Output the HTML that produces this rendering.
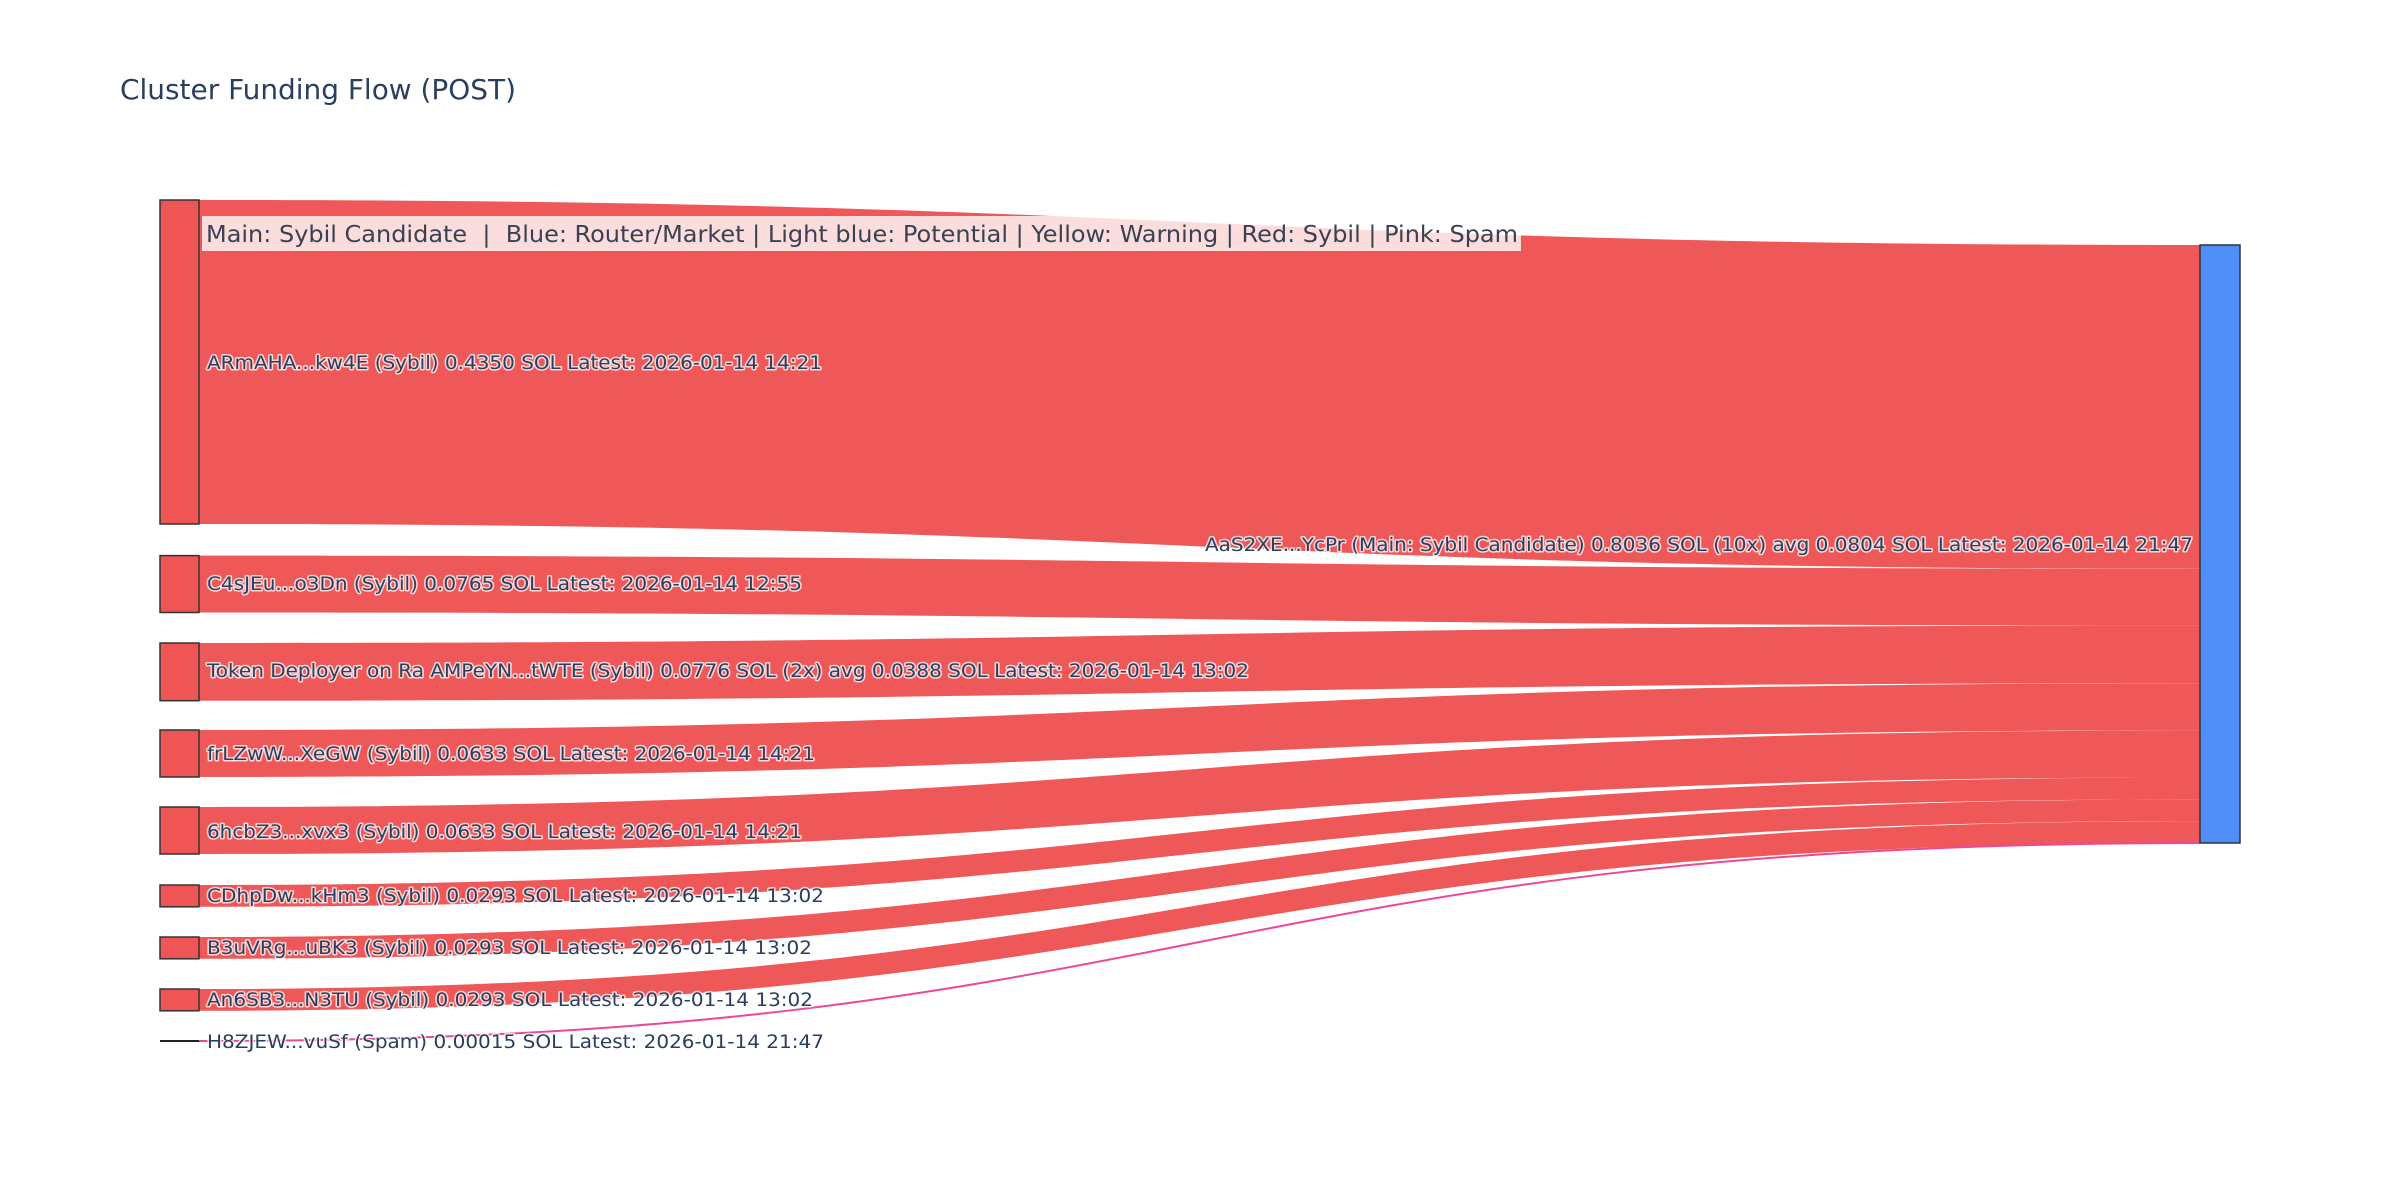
<!DOCTYPE html>
<html><head><meta charset="utf-8"><style>html,body{margin:0;padding:0;background:#fff}svg{display:block}
.l{font-family:"DejaVu Sans","Liberation Sans",sans-serif;font-size:19px;fill:#2a3f5f;paint-order:stroke;stroke:rgba(255,255,255,0.75);stroke-width:3px;stroke-linejoin:round}</style></head><body>
<svg width="2400" height="1200" viewBox="0 0 2400 1200" xmlns="http://www.w3.org/2000/svg">
<rect width="2400" height="1200" fill="#fff"/>
<text x="120" y="99" font-family="DejaVu Sans, Liberation Sans, sans-serif" font-size="28" fill="#2a3f5f" textLength="396" lengthAdjust="spacingAndGlyphs">Cluster Funding Flow (POST)</text>
<g fill="#ef5555" fill-opacity="0.98">
<path d="M199,200 C1199.5,200 1199.5,245 2200,245 L2200,568.7 C1199.5,568.7 1199.5,524 199,524 Z"/>
<path d="M199,555.6 C1199.5,555.6 1199.5,568.7 2200,568.7 L2200,625.6 C1199.5,625.6 1199.5,612.5 199,612.5 Z"/>
<path d="M199,643 C1199.5,643 1199.5,625.6 2200,625.6 L2200,683.3 C1199.5,683.3 1199.5,700.7 199,700.7 Z"/>
<path d="M199,730 C1199.5,730 1199.5,683.3 2200,683.3 L2200,730.4 C1199.5,730.4 1199.5,777 199,777 Z"/>
<path d="M199,807 C1199.5,807 1199.5,730.4 2200,730.4 L2200,777.5 C1199.5,777.5 1199.5,854 199,854 Z"/>
<path d="M199,885 C1199.5,885 1199.5,777.5 2200,777.5 L2200,799.3 C1199.5,799.3 1199.5,906.8 199,906.8 Z"/>
<path d="M199,937 C1199.5,937 1199.5,799.3 2200,799.3 L2200,821.1 C1199.5,821.1 1199.5,958.8 199,958.8 Z"/>
<path d="M199,989 C1199.5,989 1199.5,821.1 2200,821.1 L2200,842.9 C1199.5,842.9 1199.5,1010.8 199,1010.8 Z"/>
</g>
<path d="M199,1041 C1199.5,1041 1199.5,843 2200,843" fill="none" stroke="#ec4899" stroke-width="2"/>
<g fill="#ef5555" stroke="#333" stroke-width="1.5">
<rect x="160" y="200" width="39" height="324"/>
<rect x="160" y="555.6" width="39" height="56.9"/>
<rect x="160" y="643" width="39" height="57.7"/>
<rect x="160" y="730" width="39" height="47"/>
<rect x="160" y="807" width="39" height="47"/>
<rect x="160" y="885" width="39" height="21.8"/>
<rect x="160" y="937" width="39" height="21.8"/>
<rect x="160" y="989" width="39" height="21.8"/>
</g>
<line x1="160" y1="1041" x2="199" y2="1041" stroke="#222" stroke-width="2"/>
<rect x="2200" y="245" width="40" height="598" fill="#4f8ef7" stroke="#333" stroke-width="1.5"/>
<rect x="202" y="216" width="1319" height="35" fill="rgba(255,255,255,0.8)"/>
<text x="206" y="242" font-family="DejaVu Sans, Liberation Sans, sans-serif" font-size="23" fill="#3a4150" textLength="1312" lengthAdjust="spacingAndGlyphs" xml:space="preserve">Main: Sybil Candidate  |  Blue: Router/Market | Light blue: Potential | Yellow: Warning | Red: Sybil | Pink: Spam</text>
<g class="l">
<text x="207" y="369" textLength="615" lengthAdjust="spacingAndGlyphs">ARmAHA...kw4E (Sybil) 0.4350 SOL Latest: 2026-01-14 14:21</text>
<text x="207" y="590" textLength="595" lengthAdjust="spacingAndGlyphs">C4sJEu...o3Dn (Sybil) 0.0765 SOL Latest: 2026-01-14 12:55</text>
<text x="207" y="677" textLength="1042" lengthAdjust="spacingAndGlyphs">Token Deployer on Ra AMPeYN...tWTE (Sybil) 0.0776 SOL (2x) avg 0.0388 SOL Latest: 2026-01-14 13:02</text>
<text x="207" y="760" textLength="608" lengthAdjust="spacingAndGlyphs">frLZwW...XeGW (Sybil) 0.0633 SOL Latest: 2026-01-14 14:21</text>
<text x="207" y="838" textLength="595" lengthAdjust="spacingAndGlyphs">6hcbZ3...xvx3 (Sybil) 0.0633 SOL Latest: 2026-01-14 14:21</text>
<text x="207" y="902" textLength="617" lengthAdjust="spacingAndGlyphs">CDhpDw...kHm3 (Sybil) 0.0293 SOL Latest: 2026-01-14 13:02</text>
<text x="207" y="954" textLength="605" lengthAdjust="spacingAndGlyphs">B3uVRg...uBK3 (Sybil) 0.0293 SOL Latest: 2026-01-14 13:02</text>
<text x="207" y="1006" textLength="606" lengthAdjust="spacingAndGlyphs">An6SB3...N3TU (Sybil) 0.0293 SOL Latest: 2026-01-14 13:02</text>
<text x="207" y="1048" textLength="617" lengthAdjust="spacingAndGlyphs">H8ZJEW...vuSf (Spam) 0.00015 SOL Latest: 2026-01-14 21:47</text>
<text x="1205" y="551" textLength="988" lengthAdjust="spacingAndGlyphs">AaS2XE...YcPr (Main: Sybil Candidate) 0.8036 SOL (10x) avg 0.0804 SOL Latest: 2026-01-14 21:47</text>
</g>
</svg>
</body></html>
